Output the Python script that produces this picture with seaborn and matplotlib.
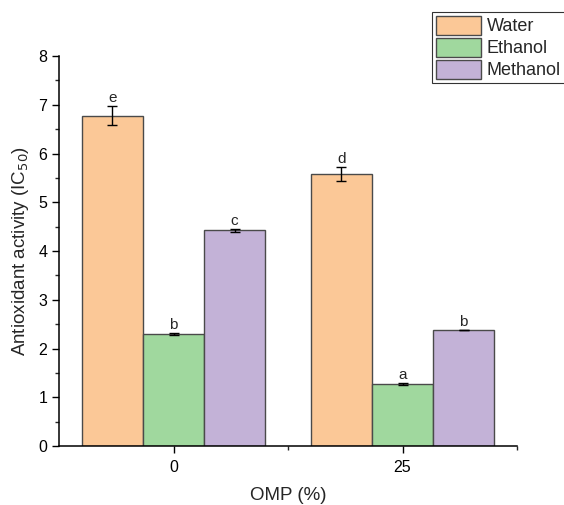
import matplotlib
matplotlib.use("Agg")
import matplotlib.pyplot as plt
import seaborn as sns
import pandas as pd
from matplotlib.ticker import MultipleLocator, FixedLocator

omp = ["0", "25"]
solvents = ["Water", "Ethanol", "Methanol"]
water = [6.78, 5.58]
ethanol = [2.30, 1.27]
methanol = [4.43, 2.38]
water_err = [0.19, 0.14]
ethanol_err = [0.02, 0.02]
methanol_err = [0.03, 0.01]
water_lbl = ["e", "d"]
ethanol_lbl = ["b", "a"]
methanol_lbl = ["c", "b"]
colors = ["#FBC897", "#A0D89E", "#C3B2D7"]

rows = []
for s, vals, errs, lbls in zip(solvents, [water, ethanol, methanol],
                                [water_err, ethanol_err, methanol_err],
                                [water_lbl, ethanol_lbl, methanol_lbl]):
    for o, v, e, l in zip(omp, vals, errs, lbls):
        rows.append(dict(OMP=o, Solvent=s, value=v, err=e, lbl=l))
df = pd.DataFrame(rows)

sns.set_style("ticks")
plt.rcParams["font.family"] = ["Liberation Sans", "DejaVu Sans"]

fig = plt.figure(figsize=(5.64, 5.05), dpi=100)
ax = fig.add_axes([0.1046, 0.1168, 0.8121, 0.7722])

sns.barplot(data=df, x="OMP", y="value", hue="Solvent", order=omp,
            hue_order=solvents, palette=colors, saturation=1, errorbar=None,
            edgecolor="#4a4a4a", linewidth=1.0, width=0.8, ax=ax)

# error bars and letters
for i, s in enumerate(solvents):
    cont = ax.containers[i]
    sub = df[df.Solvent == s].set_index("OMP").loc[omp]
    for bar, (_, r) in zip(cont, sub.iterrows()):
        xc = bar.get_x() + bar.get_width() / 2
        h = bar.get_height()
        ax.errorbar(xc, h, yerr=r.err, fmt="none", ecolor="black",
                    elinewidth=1.0, capsize=3.5, capthick=1.0)
        ax.text(xc, h + r.err + 0.02, r.lbl, ha="center", va="bottom",
                fontsize=11)

ax.set_xlim(-0.5, 1.5)
ax.set_ylim(0, 8)
ax.yaxis.set_major_locator(MultipleLocator(1))
ax.yaxis.set_minor_locator(MultipleLocator(0.5))
ax.xaxis.set_minor_locator(FixedLocator([0.5, 1.5]))
ax.tick_params(axis="both", which="major", direction="out", length=5,
               width=1, labelsize=11.5, colors="black")
ax.tick_params(axis="x", which="major", pad=5)
ax.tick_params(axis="both", which="minor", direction="out", length=3, width=1)
for sp in ["top", "right"]:
    ax.spines[sp].set_visible(False)
for sp in ["left", "bottom"]:
    ax.spines[sp].set_linewidth(1.1)
    ax.spines[sp].set_color("black")

ax.set_xlabel("OMP (%)", fontsize=13.5, labelpad=9)
ax.set_ylabel("Antioxidant activity (IC$_{50}$)", fontsize=13.5, labelpad=5)

leg = ax.legend(loc="upper left", bbox_to_anchor=(432 / 564, 1 - 12 / 505),
                bbox_transform=fig.transFigure,
                frameon=True, fancybox=False, edgecolor="black",
                fontsize=13, handlelength=2.5, handleheight=1.22,
                handletextpad=0.3, borderpad=0.22, labelspacing=0.14,
                borderaxespad=0)
leg.get_frame().set_linewidth(0.8)

fig.savefig("out.png", dpi=100)
